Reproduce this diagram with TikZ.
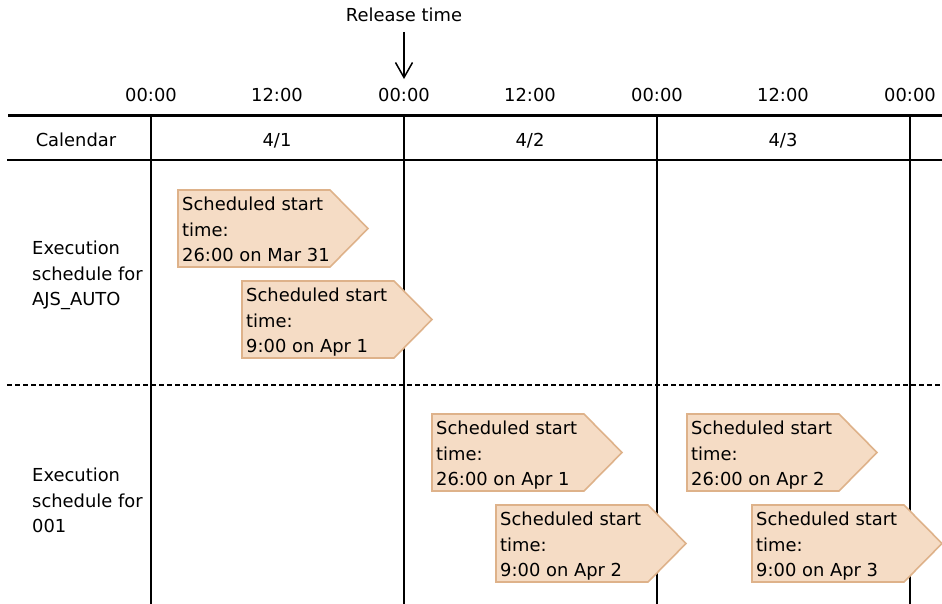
\documentclass[tikz,border=0pt]{standalone}
\usepackage{fontspec}
\setmainfont{DejaVu Sans}
\usetikzlibrary{arrows.meta}

\definecolor{boxfill}{RGB}{245,220,197}
\definecolor{boxline}{RGB}{222,178,138}

\tikzset{
  lbl/.style={inner sep=0pt, font=\fontsize{17.9}{25.5}\selectfont},
  multi/.style={lbl, align=left, anchor=north west},
  thickrule/.style={line width=3.5pt},
  rule/.style={line width=2.2pt},
  dashrule/.style={line width=1.8pt, dash pattern=on 5pt off 3pt},
  pent/.style={fill=boxfill, draw=boxline, line width=1.6pt, line join=miter},
  relarrow/.style={line width=1.5pt, -{Straight Barb[length=15pt,width=17pt,line width=1.5pt]}},
}

% pentagon pointing right with its text: name, left x, top y, date line
\newcommand\startbox[4]{%
  \path[pent] (#2,#3) -- ++(152,0) -- ++(38,38.5) -- ++(-38,38.5) -- ++(-152,0) -- cycle;
  \node[multi] (#1) at (#2+4,#3+7) {Scheduled start\\time:\\#4};
}

\begin{document}
\begin{tikzpicture}[x=1pt,y=-1pt]
\useasboundingbox (0,0) rectangle (942,604);

% time axis labels
\foreach \x/\t [count=\i] in {151/00:00,277/12:00,404/00:00,530/12:00,657/00:00,783/12:00,910/00:00}
  \node[lbl, anchor=base] (t\i) at (\x,101.5) {\t};

\node[lbl, anchor=base] (rel) at (404,22) {Release time};
\coordinate (ra) at (404,32);
\draw[relarrow, shorten >=9pt] (ra) -- (t3.north);

% table rules
\draw[thickrule] (8,115.3) -- (942,115.3);
\draw[rule] (7,159.7) -- (942,159.7);
\draw[dashrule] (7,385) -- (942,385);
\foreach \x in {151,404,657,910}
  \draw[rule] (\x,115.3) -- (\x,604);

% row labels
\node[lbl, anchor=base] (cal) at (76,146.5) {Calendar};
\node[lbl, anchor=base] (d1) at (277,146.5) {4/1};
\node[lbl, anchor=base] (d2) at (530,146.5) {4/2};
\node[lbl, anchor=base] (d3) at (783,146.5) {4/3};

\node[multi] (rowa) at (32,241) {Execution\\schedule for\\AJS\_AUTO};
\node[multi] (rowb) at (32,468) {Execution\\schedule for\\001};

% schedule boxes, laid over the rules
\startbox{a1}{178}{190}{26:00 on Mar 31}
\startbox{a2}{242}{281}{9:00 on Apr 1}
\startbox{b1}{432}{414}{26:00 on Apr 1}
\startbox{b2}{496}{505}{9:00 on Apr 2}
\startbox{c1}{687}{414}{26:00 on Apr 2}
\startbox{c2}{752}{505}{9:00 on Apr 3}
\end{tikzpicture}
\end{document}
